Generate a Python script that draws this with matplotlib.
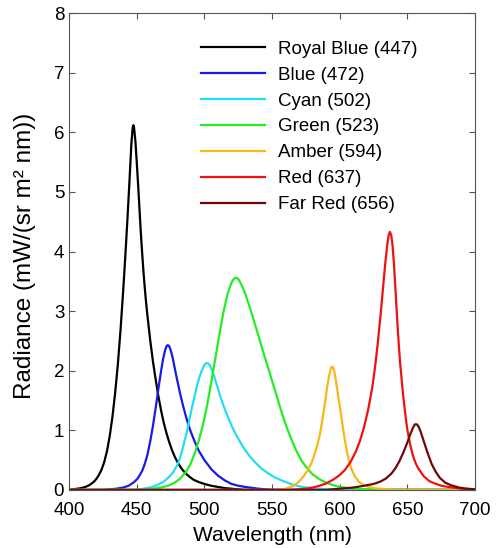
import matplotlib
matplotlib.use("Agg")
import matplotlib.pyplot as plt

plt.rcParams['font.family'] = ['Liberation Sans', 'DejaVu Sans']

# values (wavelength nm, radiance)
royal_blue_nm = [400, 403, 406, 409, 412, 415, 418, 420, 422, 424, 426, 428, 430, 432, 434,
                 436, 438, 440, 441, 442, 443, 444, 445, 446, 447, 447.5, 448, 449, 450,
                 451, 452, 453, 454, 455, 456, 457, 458, 460, 462, 464, 466, 468, 470, 472,
                 474, 476, 478, 480, 483, 486, 489, 492, 496, 500, 505, 510, 515, 520,
                 530, 700]
royal_blue = [0.0, 0.01, 0.02, 0.03, 0.05, 0.08, 0.13, 0.18, 0.25, 0.34, 0.47, 0.65, 0.9,
              1.22, 1.62, 2.1, 2.68, 3.35, 3.72, 4.1, 4.5, 4.92, 5.35, 5.8, 6.08, 6.12,
              6.08, 5.85, 5.5, 5.12, 4.72, 4.32, 3.97, 3.65, 3.37, 3.12, 2.9, 2.5, 2.15,
              1.85, 1.57, 1.33, 1.12, 0.95, 0.8, 0.67, 0.56, 0.47, 0.36, 0.28, 0.22, 0.17,
              0.13, 0.1, 0.07, 0.05, 0.03, 0.02, 0.0, 0.0]

blue_nm = [400, 425, 430, 435, 440, 444, 448, 451, 454, 456, 458, 460, 462, 464, 466, 468,
           469.5, 471, 472, 473, 474, 475, 476.5, 478, 480, 482, 484, 486, 488, 490, 493,
           496, 500, 505, 510, 515, 520, 525, 530, 540, 550, 700]
blue = [0.0, 0.0, 0.01, 0.02, 0.04, 0.07, 0.13, 0.2, 0.32, 0.44, 0.6, 0.82, 1.08, 1.38,
        1.7, 2.0, 2.2, 2.35, 2.41, 2.43, 2.41, 2.35, 2.22, 2.05, 1.83, 1.62, 1.43, 1.26,
        1.1, 0.97, 0.8, 0.65, 0.5, 0.35, 0.24, 0.16, 0.1, 0.07, 0.05, 0.02, 0.0, 0.0]

cyan_nm = [400, 450, 455, 460, 465, 470, 474, 477, 480, 482, 484, 486, 488, 490, 492, 494,
           496, 498, 500, 501.5, 503, 504.5, 506, 508, 510, 512, 514, 516, 518, 520, 523,
           526, 530, 534, 538, 542, 547, 552, 558, 565, 572, 580, 590, 600, 700]
cyan = [0.0, 0.0, 0.02, 0.04, 0.08, 0.14, 0.22, 0.3, 0.42, 0.54, 0.7, 0.88, 1.08, 1.3,
        1.5, 1.7, 1.87, 2.0, 2.1, 2.13, 2.12, 2.07, 1.98, 1.85, 1.7, 1.55, 1.42, 1.3, 1.19,
        1.08, 0.94, 0.82, 0.67, 0.55, 0.45, 0.36, 0.28, 0.21, 0.15, 0.09, 0.05, 0.03, 0.01,
        0.0, 0.0]

green_nm = [400, 455, 462, 468, 473, 478, 482, 486, 490, 493, 496, 499, 502, 505, 508, 511,
            514, 517, 520, 522, 523.5, 525, 527, 530, 533, 536, 540, 544, 548, 552, 556,
            560, 564, 568, 572, 576, 580, 585, 590, 595, 600, 610, 620, 630, 700]
green = [0.0, 0.0, 0.02, 0.04, 0.07, 0.12, 0.19, 0.29, 0.45, 0.62, 0.84, 1.1, 1.42, 1.8,
         2.2, 2.6, 2.98, 3.28, 3.48, 3.55, 3.56, 3.54, 3.46, 3.3, 3.1, 2.88, 2.58, 2.27,
         1.98, 1.68, 1.38, 1.1, 0.86, 0.65, 0.48, 0.36, 0.26, 0.18, 0.12, 0.08, 0.05, 0.02,
         0.01, 0.0, 0.0]

amber_nm = [400, 555, 560, 565, 569, 573, 576, 579, 581, 583, 585, 587, 589, 590.5, 592,
            593, 594, 595, 596, 597, 598, 599.5, 601, 602.5, 604, 605.5, 607, 609, 611,
            614, 617, 620, 625, 630, 640, 700]
amber = [0.0, 0.0, 0.02, 0.06, 0.12, 0.22, 0.32, 0.45, 0.57, 0.72, 0.9, 1.15, 1.45, 1.7,
         1.9, 2.0, 2.07, 2.06, 1.98, 1.85, 1.7, 1.48, 1.25, 1.02, 0.8, 0.62, 0.47, 0.33,
         0.23, 0.14, 0.09, 0.06, 0.03, 0.02, 0.0, 0.0]

red_nm = [400, 565, 570, 575, 580, 585, 590, 595, 600, 604, 608, 612, 615, 618, 621, 624,
          626, 628, 630, 632, 633.5, 635, 636, 637, 638, 639, 640, 641, 642, 643, 644.5,
          646, 647, 648, 649, 650, 652, 654, 656, 658, 662, 666, 670, 675, 680, 690, 700]
red = [0.0, 0.0, 0.01, 0.02, 0.04, 0.07, 0.11, 0.17, 0.25, 0.34, 0.47, 0.65, 0.83, 1.06,
       1.35, 1.72, 2.05, 2.45, 2.9, 3.4, 3.78, 4.1, 4.26, 4.33, 4.28, 4.1, 3.8, 3.42, 3.02,
       2.64, 2.15, 1.78, 1.55, 1.35, 1.16, 1.0, 0.76, 0.58, 0.45, 0.36, 0.23, 0.15, 0.11,
       0.07, 0.05, 0.02, 0.01]

far_red_nm = [400, 590, 600, 610, 618, 625, 630, 634, 638, 641, 644, 647, 650, 652, 654,
              655.5, 657, 658.5, 660, 662, 664, 666, 668, 671, 674, 678, 682, 688, 694, 700]
far_red = [0.0, 0.0, 0.02, 0.04, 0.07, 0.1, 0.14, 0.19, 0.27, 0.36, 0.48, 0.63, 0.8, 0.93,
           1.04, 1.1, 1.1, 1.05, 0.96, 0.82, 0.68, 0.55, 0.43, 0.3, 0.2, 0.12, 0.08, 0.04,
           0.02, 0.01]

labels = ['Royal Blue (447)', 'Blue (472)', 'Cyan (502)', 'Green (523)',
          'Amber (594)', 'Red (637)', 'Far Red (656)']
colors = ['#000000', '#1a1ae6', '#22ddf5', '#22ee22', '#f7b81a', '#f01010', '#6e0808']

series = [(royal_blue_nm, royal_blue), (blue_nm, blue), (cyan_nm, cyan),
          (green_nm, green), (amber_nm, amber), (red_nm, red), (far_red_nm, far_red)]

fig = plt.figure(figsize=(4.97, 5.48), dpi=100)
ax = fig.add_axes([0.139, 0.106, 0.817, 0.87])

for (x, y), lab, c in zip(series, labels, colors):
    ax.plot(x, y, color=c, lw=1.6, label=lab, solid_joinstyle='round')

ax.set_xlim(400, 700)
ax.set_ylim(0, 8)
ax.set_xticks(range(400, 701, 50))
ax.set_yticks(range(0, 9))
ax.tick_params(direction='in', top=True, right=True, length=4, labelsize=13.5,
               color='#555555')
ax.tick_params(axis='x', pad=9)
for s in ax.spines.values():
    s.set_color('#555555')
    s.set_linewidth(0.8)

ax.set_xlabel('Wavelength (nm)', fontsize=15, labelpad=5)
ax.set_ylabel('Radiance (mW/(sr m² nm))', fontsize=17.5)
ax.yaxis.set_label_coords(-0.082, 0.49)

leg = ax.legend(loc='upper right', frameon=False, fontsize=13.5, handlelength=3.4,
                handletextpad=0.7, labelspacing=0.47, bbox_to_anchor=(0.9, 0.978))

fig.savefig('out.png', dpi=100)
